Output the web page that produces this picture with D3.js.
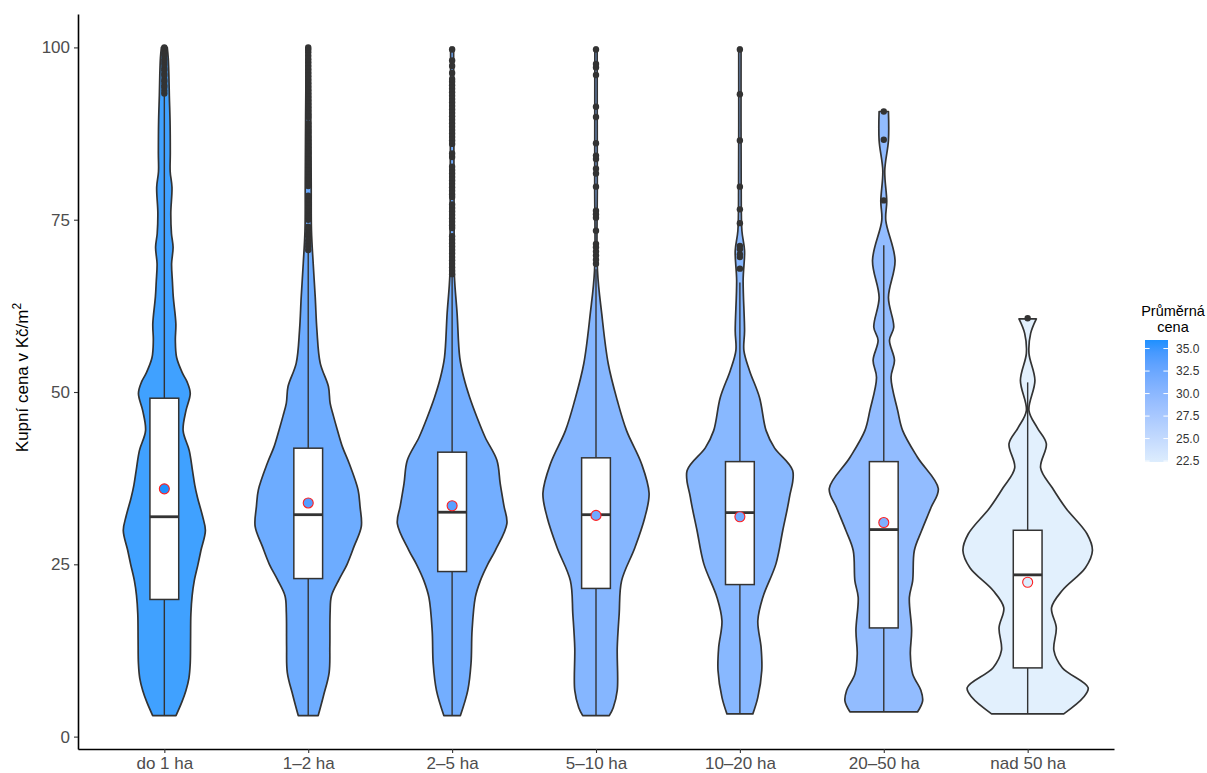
<!DOCTYPE html>
<html>
<head>
<meta charset="utf-8">
<script src="https://cdn.jsdelivr.net/npm/d3@7"></script>
<style>
  body { margin: 0; background: #fff; }
  text { font-family: "Liberation Sans", Arial, Helvetica, sans-serif; }
</style>
</head>
<body>
<svg id="chart" width="1207" height="773"></svg>
<script>
// Land purchase prices (Kč/m²) by parcel size class
const categories = ["do 1 ha", "1–2 ha", "2–5 ha", "5–10 ha", "10–20 ha", "20–50 ha", "nad 50 ha"];

// Box-plot statistics per size class
const meanPrice   = [35.95, 33.9, 33.5, 32.1, 31.9, 31.06, 22.4];
const q1          = [19.9, 22.93, 23.95, 21.5, 22.06, 15.77, 9.97];
const medianPrice = [31.9, 32.2, 32.56, 32.2, 32.5, 30.04, 23.47];
const q3          = [49.1, 41.85, 41.27, 40.45, 39.9, 39.9, 29.94];
const whiskerLow  = [3.05, 3.05, 3.05, 3.05, 3.3, 3.6, 3.3];
const whiskerHigh = [93.0, 70.3, 66.8, 67.8, 65.9, 71.3, 51.4];

// Outlying prices per size class
const outliersDo1 = [93.3, 93.7, 94.2, 94.5, 95.0, 95.3, 95.9, 96.2, 96.7, 97.0, 97.5, 97.9, 98.3, 98.8, 99.1, 99.5, 99.8, 100];
const outliers1to2 = [70.6, 71.1, 71.5, 72.0, 72.6, 73.0, 73.6, 74.0, 75.0, 75.5, 76.0, 76.4, 77.0, 77.5, 78.0, 78.5,
  79.9, 80.4, 81.0, 81.5, 82.0, 82.4, 83.0, 83.5, 84.0, 84.6, 85.0, 85.5, 86.0, 86.5, 87.0, 87.6, 88.0, 88.5, 89.0,
  89.9, 90.3, 90.8, 91.3, 91.8, 92.3, 92.8, 93.3, 93.8, 94.3, 94.8, 95.3, 95.8, 96.3, 96.8, 97.3, 97.8, 98.3, 98.8, 99.3, 99.7, 100];
const outliers2to5 = [67.1, 67.6, 68.1, 68.6, 69.1, 69.6, 70.1, 70.6, 71.1, 71.6, 72.1, 72.6, 73.8, 74.2, 74.7, 75.2,
  75.7, 76.2, 76.7, 77.2, 78.3, 78.7, 79.2, 79.7, 80.2, 80.7, 81.2, 81.7, 82.2, 82.7, 84.1, 84.6, 86.0, 86.5, 87.0,
  87.5, 88.0, 88.5, 89.0, 89.5, 90.0, 90.5, 91.0, 91.5, 92.0, 92.5, 93.0, 93.5, 94.0, 94.5, 95.0, 95.4, 96.3, 97.3, 98.1, 99.7];
const outliers5to10 = [68.6, 69.2, 69.8, 70.4, 71.0, 71.5, 73.4, 75.3, 75.8, 76.3, 79.8, 81.7, 82.4, 83.8, 84.3, 86.1, 89.9, 91.4, 96.0, 97.1, 97.6, 99.7];
const outliers10to20 = [67.9, 69.6, 70.0, 70.7, 71.2, 74.5, 76.5, 79.8, 86.5, 93.2, 99.7];
const outliers20to50 = [77.8, 86.6, 90.7];
const outliersOver50 = [60.7];
const outliers = [outliersDo1, outliers1to2, outliers2to5, outliers5to10, outliers10to20, outliers20to50, outliersOver50];

// Kernel density profiles: [price, relative density]
const densityDo1 = [[3.05,0.18],[5,0.27],[6.7,0.334],[8.5,0.38],[10.6,0.40],[14,0.405],[17.8,0.41],[20.5,0.43],
  [22.6,0.462],[25,0.52],[27,0.565],[29.9,0.634],[32,0.59],[34.7,0.512],[36.5,0.47],[38.6,0.435],[41.5,0.385],
  [44.4,0.29],[47.3,0.334],[49.8,0.40],[51.5,0.35],[52.7,0.282],[55,0.19],[57.5,0.17],[59.9,0.178],[63.8,0.138],
  [66,0.125],[68.6,0.112],[71,0.135],[73,0.11],[76,0.10],[79.7,0.118],[82,0.09],[84.6,0.092],[89.4,0.088],
  [93,0.077],[96,0.07],[98.5,0.06],[100,0.045]];
const density1to2 = [[3.05,0.154],[5.9,0.235],[9.3,0.323],[13.1,0.334],[18,0.338],[20.4,0.358],[22.8,0.477],
  [25,0.6],[27.6,0.708],[30.5,0.82],[33.4,0.80],[35.8,0.77],[39.7,0.63],[42,0.53],[44.5,0.45],[46.5,0.39],
  [48.4,0.338],[50.8,0.312],[54.2,0.185],[59,0.134],[63.8,0.108],[68.6,0.077],[73.4,0.05],[80,0.046],[90,0.04],[100,0.03]];
const density2to5 = [[3.05,0.128],[6.7,0.242],[10.6,0.292],[15.4,0.308],[20.2,0.358],[22.6,0.435],[25,0.55],
  [27,0.666],[30.9,0.846],[33.5,0.80],[36.7,0.743],[40.1,0.692],[43.4,0.512],[46.3,0.385],[49.2,0.272],
  [52.1,0.18],[55,0.118],[61.4,0.077],[66.9,0.035],[75,0.031],[100,0.023]];
const density5to10 = [[3.05,0.205],[4.2,0.266],[6.7,0.328],[12.9,0.328],[17.8,0.358],[22.6,0.395],[27.4,0.60],
  [31.8,0.754],[35.3,0.82],[39.6,0.703],[44.4,0.472],[48.8,0.328],[54.1,0.189],[61.4,0.088],[67.6,0.023],
  [80,0.02],[100,0.018]];
const density10to20 = [[3.3,0.20],[5.7,0.277],[9.6,0.338],[12.9,0.328],[16.8,0.277],[20.2,0.354],[25.1,0.558],
  [29.9,0.662],[34.7,0.765],[38.6,0.815],[41.9,0.534],[44.4,0.405],[49.2,0.303],[53.1,0.149],[56,0.062],
  [58.9,0.072],[66.2,0.05],[70.5,0.072],[73.4,0.031],[80,0.02],[100,0.018]];
const density20to50 = [[3.6,0.523],[5.2,0.60],[6.7,0.574],[9.1,0.446],[12,0.41],[15.4,0.43],[20.2,0.395],
  [22.6,0.446],[27,0.472],[29.9,0.585],[33.2,0.728],[36,0.842],[40.5,0.523],[44.4,0.292],[47.3,0.215],
  [52.1,0.112],[54.6,0.165],[57.5,0.088],[59.4,0.154],[63.7,0.072],[69.1,0.174],[74.9,0.031],[77.7,0.046],
  [82.1,0.015],[86.5,0.072],[90.7,0.072]];
const densityOver50 = [[3.3,0.558],[5.7,0.862],[7.1,0.934],[10,0.534],[12.5,0.405],[15.8,0.442],[18.7,0.369],
  [21.2,0.534],[24.5,0.892],[27,1.0],[29.4,0.918],[33.2,0.585],[36.1,0.38],[39,0.20],[42.5,0.288],[44.8,0.149],
  [47.3,0.02],[51.7,0.112],[55.6,0.02],[58.5,0.046],[60.6,0.134]];
const densities = [densityDo1, density1to2, density2to5, density5to10, density10to20, density20to50, densityOver50];

const yTicks = [0, 25, 50, 75, 100];
const legendTicks = [22.5, 25.0, 27.5, 30.0, 32.5, 35.0];

// ---- layout ----
const svg = d3.select("#chart");
const panel = { left: 78, right: 1114, top: 14, bottom: 749 };

const allPrices = densities.flat().map(d => d[0]).concat(outliers.flat());
const pMin = d3.min(allPrices), pMax = d3.max(allPrices);
const pad = (pMax - pMin) * 0.05;

const y = d3.scaleLinear().domain([pMin - pad, pMax + pad]).range([panel.bottom, panel.top]);
const x = d3.scalePoint().domain(categories).range([panel.left, panel.right]).padding(0.6);
const step = x.step();

const maxDensity = d3.max(densities.flat(), d => d[1]);
const w = d3.scaleLinear().domain([0, maxDensity]).range([0, step * 0.45]);

const fill = d3.scaleLinear()
  .domain(d3.extent(meanPrice))
  .range(["#DDEDFD", "#1E90FF"])
  .interpolate(d3.interpolateLab);

const ink = "#333333";

// ---- violins ----
categories.forEach((cat, i) => {
  const cx = x(cat);
  const area = d3.area()
    .x0(d => cx - w(d[1]))
    .x1(d => cx + w(d[1]))
    .y(d => y(d[0]))
    .curve(d3.curveCatmullRom.alpha(0.5));
  svg.append("path")
    .attr("d", area(densities[i]))
    .attr("fill", fill(meanPrice[i]))
    .attr("fill-opacity", 0.85)
    .attr("stroke", ink)
    .attr("stroke-width", 1.7)
    .attr("stroke-linejoin", "round");
});

// ---- box plots ----
const boxHalf = step * 0.1;
categories.forEach((cat, i) => {
  const cx = x(cat);
  const g = svg.append("g");
  g.append("line").attr("x1", cx).attr("x2", cx)
    .attr("y1", y(whiskerHigh[i])).attr("y2", y(q3[i]))
    .attr("stroke", ink).attr("stroke-width", 1.4);
  g.append("line").attr("x1", cx).attr("x2", cx)
    .attr("y1", y(q1[i])).attr("y2", y(whiskerLow[i]))
    .attr("stroke", ink).attr("stroke-width", 1.4);
  g.append("rect")
    .attr("x", cx - boxHalf).attr("width", boxHalf * 2)
    .attr("y", y(q3[i])).attr("height", y(q1[i]) - y(q3[i]))
    .attr("fill", "#fff").attr("stroke", ink).attr("stroke-width", 1.5);
  g.append("line")
    .attr("x1", cx - boxHalf).attr("x2", cx + boxHalf)
    .attr("y1", y(medianPrice[i])).attr("y2", y(medianPrice[i]))
    .attr("stroke", ink).attr("stroke-width", 2.8);
  g.selectAll("circle.out").data(outliers[i]).join("circle")
    .attr("class", "out")
    .attr("cx", cx).attr("cy", d => y(d)).attr("r", 3.2)
    .attr("fill", ink);
});

// ---- means ----
svg.append("g").selectAll("circle").data(categories).join("circle")
  .attr("cx", d => x(d))
  .attr("cy", (d, i) => y(meanPrice[i]))
  .attr("r", 5)
  .attr("fill", (d, i) => fill(meanPrice[i]))
  .attr("stroke", "#FF2020")
  .attr("stroke-width", 1.1);

// ---- axes ----
const yAxis = svg.append("g")
  .attr("transform", `translate(${panel.left},0)`)
  .call(d3.axisLeft(y).tickValues(yTicks).tickSize(4).tickSizeOuter(0).tickPadding(4));
const xAxis = svg.append("g")
  .attr("transform", `translate(0,${panel.bottom})`)
  .call(d3.axisBottom(x).tickSize(4).tickSizeOuter(0).tickPadding(4));

[yAxis, xAxis].forEach(ax => {
  ax.select(".domain").attr("stroke", "#000").attr("stroke-width", 1.6);
  ax.selectAll(".tick line").attr("stroke", ink).attr("stroke-width", 1.1);
  ax.selectAll(".tick text")
    .attr("fill", "#4D4D4D")
    .style("font-size", "17px")
    .style("font-family", '"Liberation Sans", Arial, sans-serif');
});

// y-axis title with superscript
const yTitle = svg.append("text")
  .attr("transform", `translate(28,${(panel.top + panel.bottom) / 2 - 4}) rotate(-90)`)
  .attr("text-anchor", "middle")
  .attr("fill", "#000")
  .style("font-size", "17px");
yTitle.append("tspan").text("Kupní cena v Kč/m");
yTitle.append("tspan").attr("dy", -7).style("font-size", "12px").text("2");

// ---- colour legend ----
const bar = { x: 1145, width: 23 };
const ly = d3.scaleLinear().domain(d3.extent(meanPrice)).range([462, 340]);

const grad = svg.append("defs").append("linearGradient")
  .attr("id", "meanGrad").attr("x1", 0).attr("x2", 0).attr("y1", 1).attr("y2", 0);
d3.range(0, 1.0001, 0.1).forEach(t => {
  const v = fill.domain()[0] + t * (fill.domain()[1] - fill.domain()[0]);
  grad.append("stop").attr("offset", t).attr("stop-color", fill(v));
});

svg.append("rect")
  .attr("x", bar.x).attr("width", bar.width)
  .attr("y", ly.range()[1]).attr("height", ly.range()[0] - ly.range()[1])
  .attr("fill", "url(#meanGrad)");

const lt = svg.append("g").selectAll("g").data(legendTicks).join("g");
lt.append("line")
  .attr("x1", bar.x).attr("x2", bar.x + bar.width / 5)
  .attr("y1", d => ly(d)).attr("y2", d => ly(d))
  .attr("stroke", "#fff").attr("stroke-width", 1);
lt.append("line")
  .attr("x1", bar.x + bar.width * 4 / 5).attr("x2", bar.x + bar.width)
  .attr("y1", d => ly(d)).attr("y2", d => ly(d))
  .attr("stroke", "#fff").attr("stroke-width", 1);
lt.append("text")
  .attr("x", bar.x + bar.width + 8)
  .attr("y", d => ly(d))
  .attr("dy", "0.35em")
  .attr("fill", "#333")
  .style("font-size", "12px")
  .text(d => d.toFixed(1));

const title = svg.append("text")
  .attr("text-anchor", "middle")
  .attr("fill", "#000")
  .style("font-size", "14.5px");
title.append("tspan").attr("x", 1173).attr("y", 316).text("Průměrná");
title.append("tspan").attr("x", 1173).attr("y", 332).text("cena");
</script>
</body>
</html>
